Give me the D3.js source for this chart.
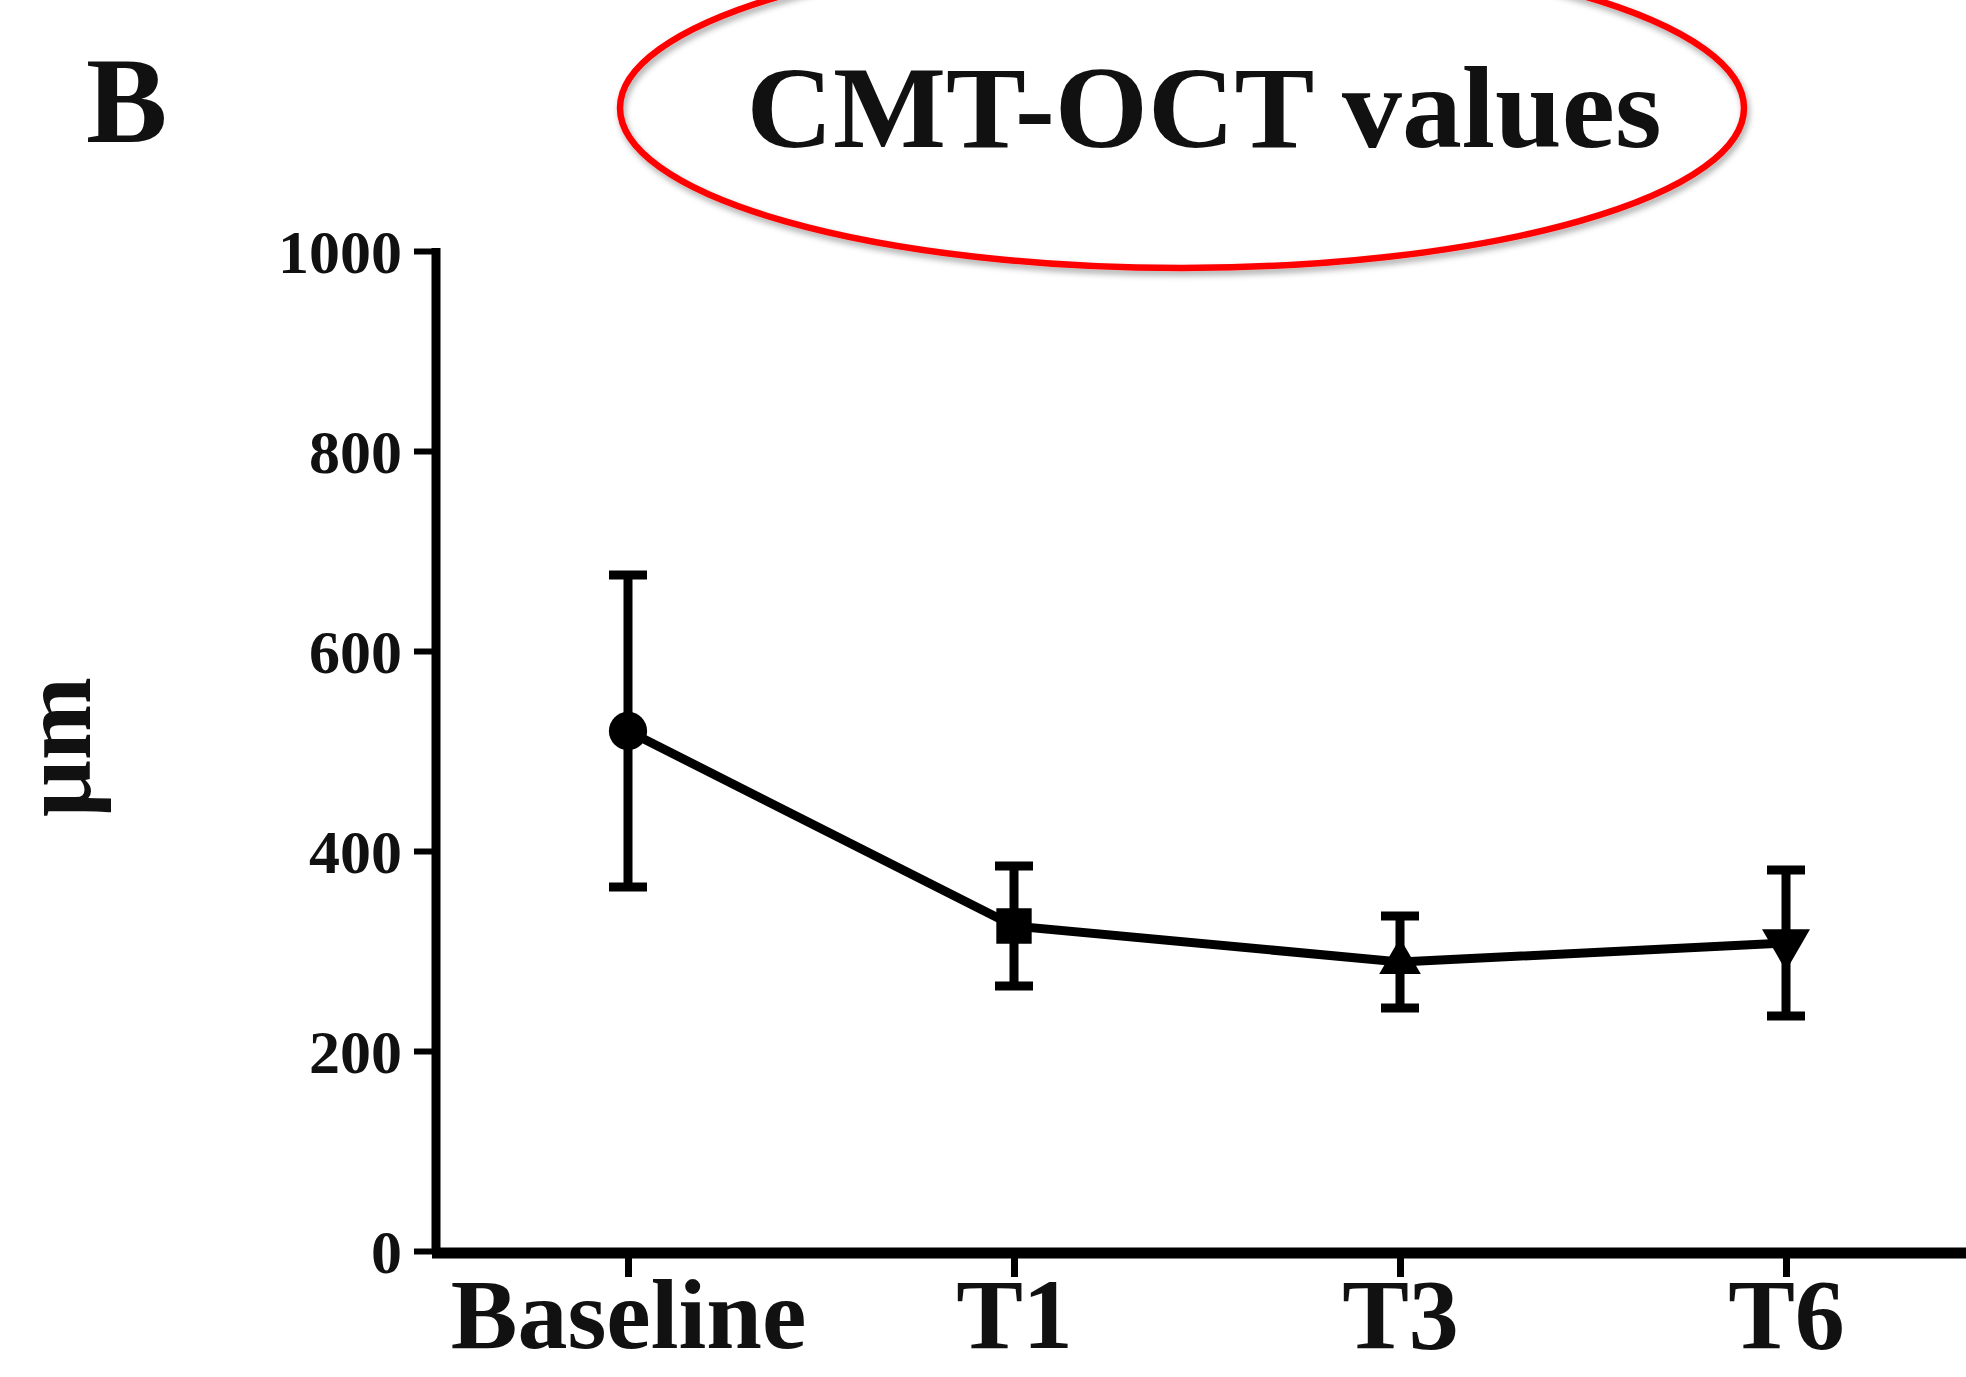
<!DOCTYPE html>
<html>
<head>
<meta charset="utf-8">
<script src="https://cdn.jsdelivr.net/npm/d3@7"></script>
<style>
  html, body { margin: 0; padding: 0; background: #fff; }
  svg { display: block; }
  text { font-family: "Liberation Serif", "Times New Roman", serif; font-weight: bold; fill: #111; }
</style>
</head>
<body>
<div id="chart"></div>
<script>
// data (mean +/- SD, µm)
const timepoints = ["Baseline", "T1", "T3", "T6"];
const means = [520, 325, 289, 308];
const sds = [156, 60, 46, 73];
const yTicks = [0, 200, 400, 600, 800, 1000];

const width = 1966,
    height = 1377,
    margin = ({ top: 251, right: 0, bottom: 126, left: 436 });

const svg = d3.select("#chart")
  .append("svg")
  .attr("width", width)
  .attr("height", height)
  .attr("viewBox", [0, 0, width, height]);

const data = timepoints.map((t, i) => ({ t: t, mean: means[i], sd: sds[i] }));

const x = d3.scalePoint()
  .domain(timepoints)
  .range([margin.left - 1, margin.left - 1 + 4 * 386])
  .padding(0.5);

const y = d3.scaleLinear()
  .domain([0, 1000])
  .range([height - margin.bottom, margin.top]);

// shadow for the red ring
const defs = svg.append("defs");
defs.append("filter")
    .attr("id", "shadow")
    .attr("x", "-10%").attr("y", "-10%")
    .attr("width", "120%").attr("height", "130%")
  .append("feDropShadow")
    .attr("dx", 2).attr("dy", 4)
    .attr("stdDeviation", 3)
    .attr("flood-color", "#000")
    .attr("flood-opacity", 0.35);

// panel letter
svg.append("text")
  .attr("x", 86)
  .attr("y", 142)
  .attr("font-size", 122)
  .text("B");

// title + hand drawn red ellipse
svg.append("ellipse")
  .attr("cx", 1182)
  .attr("cy", 108)
  .attr("rx", 562)
  .attr("ry", 160)
  .attr("fill", "none")
  .attr("stroke", "#ff0000")
  .attr("stroke-width", 6.5)
  .attr("filter", "url(#shadow)");

svg.append("text")
  .attr("x", 1204)
  .attr("y", 147)
  .attr("text-anchor", "middle")
  .attr("font-size", 116)
  .attr("textLength", 915)
  .attr("lengthAdjust", "spacingAndGlyphs")
  .text("CMT-OCT values");

// y axis
const yAxis = svg.append("g")
  .attr("transform", `translate(${margin.left},0)`)
  .call(d3.axisLeft(y).tickValues(yTicks).tickSize(22).tickPadding(12).tickFormat(d3.format("d")));

yAxis.select(".domain")
  .attr("d", `M0,${y(1000) - 3}V${y(0)}`)
  .attr("stroke", "#000")
  .attr("stroke-width", 9);
yAxis.selectAll(".tick line")
  .attr("stroke", "#000")
  .attr("stroke-width", 6);
yAxis.selectAll(".tick text")
  .attr("font-family", "Liberation Serif, serif")
  .attr("font-weight", "bold")
  .attr("font-size", 62)
  .attr("fill", "#2a2a2a")
  .attr("dy", "0.34em");

// x axis
const xAxis = svg.append("g")
  .attr("transform", `translate(0,${y(0) + 2})`)
  .call(d3.axisBottom(x).tickSize(24).tickPadding(0));

xAxis.select(".domain")
  .attr("d", `M${margin.left - 4},0H${width}`)
  .attr("stroke", "#000")
  .attr("stroke-width", 11);
xAxis.selectAll(".tick line")
  .attr("stroke", "#000")
  .attr("stroke-width", 7);
xAxis.selectAll(".tick text")
  .attr("font-family", "Liberation Serif, serif")
  .attr("font-weight", "bold")
  .attr("font-size", 100)
  .attr("fill", "#111")
  .attr("dy", "0.71em");

// y label
svg.append("text")
  .attr("transform", `translate(90,${y(504)}) rotate(-90)`)
  .attr("text-anchor", "middle")
  .attr("font-size", 100)
  .text("μm");

// mean line
const line = d3.line()
  .x(d => x(d.t))
  .y(d => y(d.mean));

svg.append("path")
  .datum(data)
  .attr("d", line)
  .attr("fill", "none")
  .attr("stroke", "#000")
  .attr("stroke-width", 9)
  .attr("stroke-linejoin", "round");

// error bars
const bars = svg.append("g")
  .selectAll("g")
  .data(data)
  .join("g")
  .attr("stroke", "#000")
  .attr("stroke-width", 9);

bars.append("line")
  .attr("x1", d => x(d.t))
  .attr("x2", d => x(d.t))
  .attr("y1", d => y(d.mean + d.sd))
  .attr("y2", d => y(d.mean - d.sd));

bars.append("line")
  .attr("x1", d => x(d.t) - 19)
  .attr("x2", d => x(d.t) + 19)
  .attr("y1", d => y(d.mean + d.sd))
  .attr("y2", d => y(d.mean + d.sd));

bars.append("line")
  .attr("x1", d => x(d.t) - 19)
  .attr("x2", d => x(d.t) + 19)
  .attr("y1", d => y(d.mean - d.sd))
  .attr("y2", d => y(d.mean - d.sd));

// markers: circle, square, triangle, inverted triangle
const shapes = [d3.symbolCircle, d3.symbolSquare, d3.symbolTriangle, d3.symbolTriangle];
const sizes = [1150, 1250, 750, 1000];
const rot = [0, 0, 0, 180];

svg.append("g")
  .selectAll("path")
  .data(data)
  .join("path")
  .attr("transform", (d, i) => `translate(${x(d.t)},${y(d.mean)}) rotate(${rot[i]})`)
  .attr("d", (d, i) => d3.symbol().type(shapes[i]).size(sizes[i])())
  .attr("fill", "#000");
</script>
</body>
</html>
